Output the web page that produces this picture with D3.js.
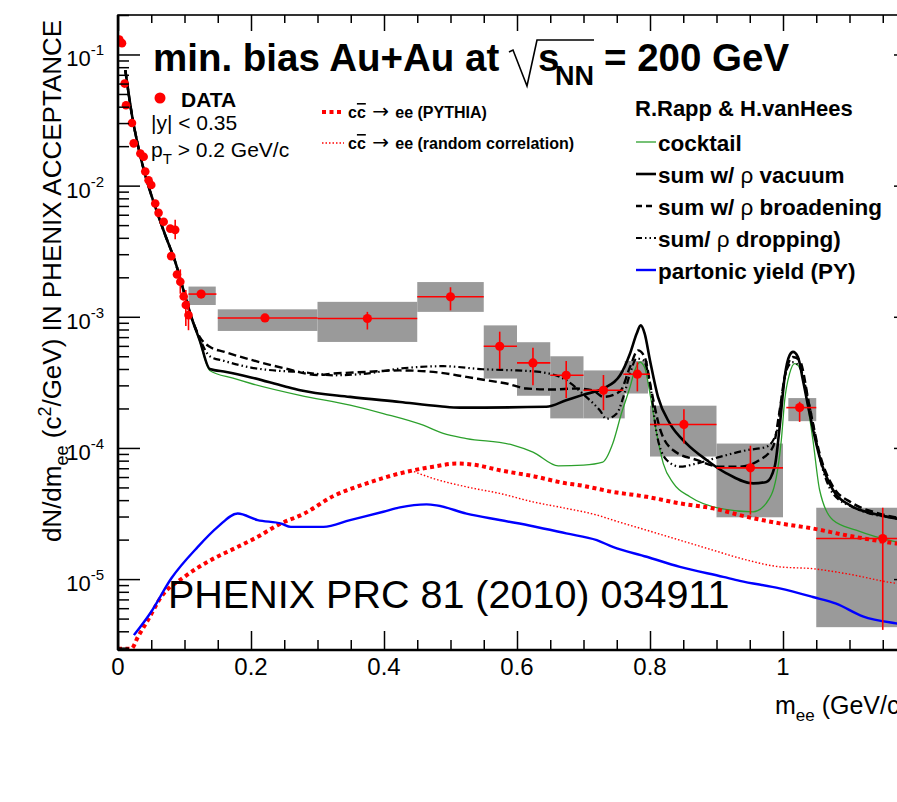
<!DOCTYPE html>
<html>
<head>
<meta charset="utf-8">
<script src="https://cdn.jsdelivr.net/npm/d3@7"></script>
<style>
  body { margin: 0; background: #fff; }
  svg { font-family: "Liberation Sans", Arial, Helvetica, sans-serif; }
</style>
</head>
<body>
<div id="chart"></div>
<script>

// low mass data points [m, dN/dm]
const lowMass = [
  [0.002, 0.13], [0.006, 0.122], [0.010, 0.060], [0.012, 0.041], [0.021, 0.030],
  [0.0236, 0.021], [0.0336, 0.0176], [0.0386, 0.0166], [0.041, 0.0128], [0.046, 0.0110],
  [0.050, 0.0101], [0.056, 0.0073], [0.061, 0.0062], [0.0687, 0.0053], [0.0786, 0.0047],
  [0.086, 0.0046], [0.080, 0.0029], [0.0887, 0.0021], [0.0937, 0.00185], [0.0988, 0.00143],
  [0.102, 0.00123], [0.106, 0.00103]
];
// visible stat. error bars on low mass points [m, lo, hi]
const lowMassErr = [
  [0.086, 0.0039, 0.0055], [0.0937, 0.0015, 0.0023], [0.102, 0.00085, 0.0016],
  [0.106, 0.00079, 0.00132]
];

// binned data points
const binX     = [0.125, 0.221, 0.375, 0.50, 0.574, 0.624, 0.674, 0.730, 0.781, 0.851, 0.951, 1.025, 1.150];
const binY     = [1.49e-3, 9.8e-4, 9.7e-4, 1.42e-3, 5.96e-4, 4.45e-4, 3.58e-4, 2.75e-4, 3.65e-4, 1.51e-4, 7.05e-5, 2.03e-4, 2.04e-5];
const binXLo   = [0.106, 0.15, 0.30, 0.45, 0.55, 0.60, 0.65, 0.70, 0.76, 0.80, 0.90, 1.005, 1.05];
const binXHi   = [0.148, 0.30, 0.45, 0.55, 0.60, 0.65, 0.70, 0.76, 0.80, 0.90, 1.00, 1.05, 1.25];
const binErrLo = [1.4e-3, 9.2e-4, 8.0e-4, 1.12e-3, 4.0e-4, 3.0e-4, 2.4e-4, 1.94e-4, 2.7e-4, 1.08e-4, 3.1e-5, 1.58e-4, 4.1e-6];
const binErrHi = [1.6e-3, 1.05e-3, 1.09e-3, 1.68e-3, 7.7e-4, 5.8e-4, 4.6e-4, 3.6e-4, 4.5e-4, 1.97e-4, 1.04e-4, 2.25e-4, 3.5e-5];
// systematic boxes
const sysXLo = [0.106, 0.15, 0.30, 0.45, 0.55, 0.60, 0.65, 0.70, 0.762, 0.80, 0.90, 1.008, 1.05];
const sysXHi = [0.147, 0.30, 0.45, 0.55, 0.60, 0.65, 0.70, 0.762, 0.797, 0.90, 1.00, 1.05, 1.25];
const sysYLo = [1.23e-3, 7.8e-4, 6.43e-4, 1.09e-3, 3.38e-4, 2.5e-4, 1.68e-4, 1.68e-4, 2.6e-4, 8.6e-5, 2.96e-5, 1.6e-4, 4.3e-6];
const sysYHi = [1.7e-3, 1.14e-3, 1.30e-3, 1.84e-3, 8.6e-4, 6.4e-4, 5.0e-4, 3.9e-4, 4.6e-4, 2.1e-4, 1.08e-4, 2.4e-4, 3.5e-5];

// model curves (R.Rapp & H.vanHees), shared steep low-mass part
const commonLow = [
  [0.011, 0.076], [0.021, 0.0345], [0.031, 0.0192], [0.041, 0.012], [0.056, 0.0069],
  [0.071, 0.0042], [0.086, 0.00263], [0.099, 0.00156], [0.111, 9.7e-4]
];
const cocktail = commonLow.concat([
  [0.123, 6.5e-4], [0.138, 3.9e-4], [0.173, 3.4e-4], [0.2, 3.1e-4], [0.2736, 2.52e-4],
  [0.349, 2.12e-4], [0.399, 1.83e-4], [0.459, 1.49e-4], [0.489, 1.29e-4], [0.524, 1.18e-4],
  [0.594, 1.05e-4], [0.624, 9.3e-5], [0.662, 7.3e-5], [0.70, 7.4e-5], [0.729, 7.8e-5],
  [0.744, 1.08e-4], [0.757, 1.83e-4], [0.770, 2.92e-4], [0.777, 3.9e-4], [0.785, 4.5e-4],
  [0.792, 4.1e-4], [0.80, 2.6e-4], [0.81, 1.29e-4], [0.82, 7.6e-5], [0.835, 5.4e-5],
  [0.86, 4.24e-5], [0.905, 3.46e-5], [0.955, 3.26e-5], [0.975, 3.8e-5], [0.99, 6.0e-5],
  [0.9975, 1.15e-4], [1.0025, 2.3e-4], [1.01, 3.7e-4], [1.0175, 4.4e-4], [1.025, 4.1e-4],
  [1.035, 2.45e-4], [1.045, 1.15e-4], [1.055, 4.8e-5], [1.075, 2.82e-5], [1.11, 2.36e-5],
  [1.17, 1.92e-5], [1.2, 1.8e-5]
]);
const sumVacuum = commonLow.concat([
  [0.123, 6.6e-4], [0.138, 4.0e-4], [0.163, 3.8e-4], [0.2, 3.45e-4], [0.25, 2.95e-4],
  [0.274, 2.75e-4], [0.349, 2.45e-4], [0.424, 2.24e-4], [0.484, 2.08e-4], [0.514, 2.03e-4],
  [0.644, 2.06e-4], [0.674, 2.31e-4], [0.70, 2.55e-4], [0.73, 2.84e-4], [0.755, 3.58e-4],
  [0.77, 5.25e-4], [0.78, 7.45e-4], [0.786, 8.6e-4], [0.792, 7.45e-4], [0.80, 4.65e-4],
  [0.812, 2.45e-4], [0.83, 1.53e-4], [0.855, 1.08e-4], [0.885, 8.1e-5], [0.915, 6.4e-5],
  [0.955, 5.37e-5], [0.975, 5.5e-5], [0.9875, 7.2e-5], [0.995, 1.45e-4], [1.0025, 3.47e-4],
  [1.01, 5.1e-4], [1.015, 5.4e-4], [1.0225, 4.94e-4], [1.03, 3.28e-4], [1.04, 1.83e-4],
  [1.055, 8.55e-5], [1.075, 4.8e-5], [1.105, 3.56e-5], [1.135, 3.16e-5], [1.17, 2.9e-5],
  [1.2, 2.75e-5]
]);
const sumBroad = commonLow.concat([
  [0.123, 7.0e-4], [0.138, 5.9e-4], [0.16, 5.4e-4], [0.2, 4.7e-4], [0.25, 4.05e-4],
  [0.3, 3.6e-4], [0.324, 3.69e-4], [0.374, 3.8e-4], [0.424, 3.9e-4], [0.474, 3.8e-4],
  [0.524, 3.48e-4], [0.554, 3.28e-4], [0.584, 3.1e-4], [0.614, 2.84e-4], [0.654, 2.79e-4],
  [0.689, 2.84e-4], [0.714, 2.75e-4], [0.73, 2.45e-4], [0.755, 2.7e-4], [0.77, 4.15e-4],
  [0.782, 5.55e-4], [0.792, 4.94e-4], [0.802, 2.75e-4], [0.815, 1.4e-4], [0.835, 9.6e-5],
  [0.87, 8.1e-5], [0.905, 7.2e-5], [0.935, 7.2e-5], [0.965, 8.1e-5], [0.985, 1.02e-4],
  [0.995, 1.94e-4], [1.0025, 3.47e-4], [1.015, 4.94e-4], [1.025, 4.67e-4], [1.04, 2.06e-4],
  [1.055, 9.1e-5], [1.075, 5.1e-5], [1.105, 3.78e-5], [1.145, 3.16e-5], [1.2, 2.8e-5]
]);
const sumDrop = commonLow.concat([
  [0.123, 6.8e-4], [0.138, 5.0e-4], [0.16, 4.6e-4], [0.2, 4.1e-4], [0.25, 3.85e-4],
  [0.274, 3.8e-4], [0.324, 3.58e-4], [0.374, 3.69e-4], [0.424, 4.03e-4], [0.489, 4.2e-4],
  [0.549, 3.98e-4], [0.599, 3.9e-4], [0.634, 3.8e-4], [0.674, 3.28e-4], [0.704, 2.45e-4],
  [0.7245, 1.94e-4], [0.7345, 1.67e-4], [0.75, 1.83e-4], [0.76, 2.45e-4], [0.77, 3.69e-4],
  [0.78, 4.8e-4], [0.79, 4.67e-4], [0.80, 3.1e-4], [0.81, 1.29e-4], [0.825, 8.1e-5],
  [0.845, 7.2e-5], [0.87, 7.6e-5], [0.905, 8.55e-5], [0.945, 9.6e-5], [0.975, 1.02e-4],
  [0.99, 1.29e-4], [0.9975, 2.31e-4], [1.005, 3.9e-4], [1.015, 4.5e-4], [1.025, 4.15e-4],
  [1.04, 2.06e-4], [1.055, 8.5e-5], [1.075, 4.5e-5], [1.11, 3.45e-5], [1.17, 2.9e-5],
  [1.2, 2.75e-5]
]);
const partonic = [
  [0.024, 3.74e-6], [0.05, 5.64e-6], [0.08, 1.01e-5], [0.12, 1.76e-5], [0.15, 2.5e-5],
  [0.18, 3.16e-5], [0.21, 2.82e-5], [0.2455, 2.65e-5], [0.26, 2.5e-5], [0.309, 2.5e-5],
  [0.349, 2.82e-5], [0.399, 3.26e-5], [0.424, 3.52e-5], [0.464, 3.71e-5], [0.479, 3.65e-5],
  [0.524, 3.16e-5], [0.574, 2.82e-5], [0.624, 2.53e-5], [0.674, 2.23e-5], [0.72, 1.98e-5],
  [0.744, 1.76e-5], [0.795, 1.48e-5], [0.845, 1.24e-5], [0.91, 1.04e-5], [0.935, 9.7e-6],
  [0.995, 8.5e-6], [1.045, 7.3e-6], [1.08, 6.5e-6], [1.12, 5.2e-6], [1.17, 4.6e-6],
  [1.2, 4.4e-6]
];
const charmPythia = [
  [0.0, 2.95e-6], [0.02, 2.95e-6], [0.03, 3.63e-6], [0.045, 4.88e-6], [0.065, 7.33e-6],
  [0.1, 1.04e-5], [0.14, 1.4e-5], [0.175, 1.71e-5], [0.21, 2.1e-5], [0.24, 2.58e-5],
  [0.28, 3.16e-5], [0.324, 4.3e-5], [0.374, 5.37e-5], [0.424, 6.4e-5], [0.474, 7.2e-5],
  [0.509, 7.6e-5], [0.539, 7.4e-5], [0.574, 6.76e-5], [0.624, 6.1e-5], [0.674, 5.37e-5],
  [0.694, 5.2e-5], [0.744, 4.62e-5], [0.795, 4.24e-5], [0.845, 3.78e-5], [0.895, 3.46e-5],
  [0.945, 2.99e-5], [0.995, 2.66e-5], [1.045, 2.43e-5], [1.095, 2.16e-5], [1.17, 1.87e-5],
  [1.2, 1.8e-5]
];
const charmRandom = [
  [0.445, 6.6e-5], [0.474, 5.85e-5], [0.524, 5.05e-5], [0.574, 4.5e-5], [0.624, 3.88e-5],
  [0.674, 3.46e-5], [0.72, 3.08e-5], [0.744, 2.82e-5], [0.795, 2.36e-5], [0.845, 1.98e-5],
  [0.895, 1.66e-5], [0.945, 1.4e-5], [0.995, 1.24e-5], [1.045, 1.2e-5], [1.095, 1.1e-5],
  [1.17, 9.3e-6], [1.2, 9e-6]
];

const yMajor = [1e-5, 1e-4, 1e-3, 1e-2, 1e-1];
const xMajor = [0, 0.2, 0.4, 0.6, 0.8, 1, 1.2];
const xLabels = ["0", "0.2", "0.4", "0.6", "0.8", "1"];

// ---- layout ----
const size = { width: 897, height: 802 };
const plot = { left: 118, right: 916, top: 15, bottom: 650 };

const svg = d3.select("#chart")
  .append("svg")
  .attr("width", size.width)
  .attr("height", size.height);

svg.append("rect").attr("width", size.width).attr("height", size.height).attr("fill", "#fff");

const x = d3.scaleLinear().domain([0, 1.2]).range([plot.left, plot.right]);
const y = d3.scaleLog().domain([2.88e-6, 0.2]).range([plot.bottom, plot.top]);

svg.append("clipPath").attr("id", "clip")
  .append("rect")
  .attr("x", plot.left).attr("y", plot.top - 2)
  .attr("width", plot.right - plot.left).attr("height", plot.bottom - plot.top + 2);

const area = svg.append("g").attr("clip-path", "url(#clip)");

// systematic boxes
area.append("g")
  .selectAll("rect")
  .data(binX.map((d, i) => i))
  .join("rect")
  .attr("x", (i) => x(sysXLo[i]))
  .attr("width", (i) => x(sysXHi[i]) - x(sysXLo[i]))
  .attr("y", (i) => y(sysYHi[i]))
  .attr("height", (i) => y(sysYLo[i]) - y(sysYHi[i]))
  .attr("fill", "#9a9a9a");

// curves
const line = d3.line()
  .x((d) => x(d[0]))
  .y((d) => y(d[1]))
  .curve(d3.curveMonotoneX);

const curves = [
  { data: cocktail, color: "#2ca02c", width: 1.3, dash: null },
  { data: charmRandom, color: "#ff0000", width: 1.4, dash: "1.5,2" },
  { data: charmPythia, color: "#ff0000", width: 4, dash: "4,3.5" },
  { data: partonic, color: "#0000ff", width: 2.4, dash: null },
  { data: sumDrop, color: "#000", width: 2.2, dash: "7,3,1.5,3,1.5,3" },
  { data: sumBroad, color: "#000", width: 2.4, dash: "8,4" },
  { data: sumVacuum, color: "#000", width: 2.6, dash: null },
];

area.append("g")
  .selectAll("path")
  .data(curves)
  .join("path")
  .attr("d", (d) => line(d.data))
  .attr("fill", "none")
  .attr("stroke", (d) => d.color)
  .attr("stroke-width", (d) => d.width)
  .attr("stroke-dasharray", (d) => d.dash);

// error bars
const err = area.append("g").attr("stroke", "#ff0000").attr("stroke-width", 1.6);
err.selectAll("line.h")
  .data(binX.map((d, i) => i))
  .join("line")
  .attr("class", "h")
  .attr("x1", (i) => x(binXLo[i])).attr("x2", (i) => x(binXHi[i]))
  .attr("y1", (i) => y(binY[i])).attr("y2", (i) => y(binY[i]));
err.selectAll("line.v")
  .data(binX.map((d, i) => i))
  .join("line")
  .attr("class", "v")
  .attr("x1", (i) => x(binX[i])).attr("x2", (i) => x(binX[i]))
  .attr("y1", (i) => y(binErrLo[i])).attr("y2", (i) => y(binErrHi[i]));
err.selectAll("line.lv")
  .data(lowMassErr)
  .join("line")
  .attr("class", "lv")
  .attr("x1", (d) => x(d[0])).attr("x2", (d) => x(d[0]))
  .attr("y1", (d) => y(d[1])).attr("y2", (d) => y(d[2]));

// markers
const markers = area.append("g").attr("fill", "#ff0000");
markers.selectAll("circle.low")
  .data(lowMass)
  .join("circle")
  .attr("class", "low")
  .attr("cx", (d) => x(d[0])).attr("cy", (d) => y(d[1])).attr("r", 4.3);
markers.selectAll("circle.bin")
  .data(binX.map((d, i) => i))
  .join("circle")
  .attr("class", "bin")
  .attr("cx", (i) => x(binX[i])).attr("cy", (i) => y(binY[i])).attr("r", 4.6);

// ---- axes ----
const yMinor = [];
for (let e = -6; e <= -1; e++) {
  for (let k = 2; k <= 9; k++) {
    const v = k * Math.pow(10, e);
    if (v >= 2.88e-6 && v <= 0.2) yMinor.push(v);
  }
}
const xMinor = d3.range(0, 25).map((i) => i * 0.05).filter((v) => Math.round(v * 100) % 20 !== 0);

function tickGroup(axis, tx, ty) {
  const g = svg.append("g").attr("transform", `translate(${tx},${ty})`).call(axis);
  g.select(".domain").remove();
  g.selectAll("line").attr("stroke", "#000").attr("stroke-width", 1.5);
  return g;
}
tickGroup(d3.axisLeft(y).tickValues(yMajor).tickSize(-22).tickFormat(""), plot.left, 0);
tickGroup(d3.axisLeft(y).tickValues(yMinor).tickSize(-11).tickFormat(""), plot.left, 0);
tickGroup(d3.axisRight(y).tickValues(yMajor).tickSize(-22).tickFormat(""), plot.right, 0);
tickGroup(d3.axisRight(y).tickValues(yMinor).tickSize(-11).tickFormat(""), plot.right, 0);
tickGroup(d3.axisBottom(x).tickValues(xMajor).tickSize(-19).tickFormat(""), 0, plot.bottom);
tickGroup(d3.axisBottom(x).tickValues(xMinor).tickSize(-10).tickFormat(""), 0, plot.bottom);
tickGroup(d3.axisTop(x).tickValues(xMajor).tickSize(-16).tickFormat(""), 0, plot.top);
tickGroup(d3.axisTop(x).tickValues(xMinor).tickSize(-8).tickFormat(""), 0, plot.top);

// frame
svg.append("rect")
  .attr("x", plot.left).attr("y", plot.top)
  .attr("width", plot.right - plot.left).attr("height", plot.bottom - plot.top)
  .attr("fill", "none").attr("stroke", "#000").attr("stroke-width", 1.6);
svg.append("line").attr("x1", plot.left).attr("x2", plot.left)
  .attr("y1", plot.top).attr("y2", plot.bottom).attr("stroke", "#000").attr("stroke-width", 2.6);
svg.append("line").attr("x1", plot.left).attr("x2", plot.right)
  .attr("y1", plot.bottom).attr("y2", plot.bottom).attr("stroke", "#000").attr("stroke-width", 2.6);

// y tick labels: 10^-k
const yl = svg.append("g").attr("font-size", 22).attr("fill", "#000");
yMajor.forEach((v) => {
  const t = yl.append("text")
    .attr("x", 104)
    .attr("y", y(v) + 12)
    .attr("text-anchor", "end");
  t.append("tspan").text("10");
  t.append("tspan").attr("font-size", 15).attr("dy", -11).text(String(Math.round(Math.log10(v))));
});

// x tick labels (1.2 lies outside the picture)
svg.append("g")
  .selectAll("text")
  .data(xLabels)
  .join("text")
  .attr("x", (d, i) => x(xMajor[i]))
  .attr("y", 675)
  .attr("text-anchor", "middle")
  .attr("font-size", 24)
  .text((d) => d);

// x title (runs off the right edge, as in the source figure)
const xt = svg.append("text").attr("x", 775).attr("y", 714).attr("font-size", 25);
xt.append("tspan").text("m");
xt.append("tspan").attr("font-size", 17).attr("dy", 7).text("ee");
xt.append("tspan").attr("dy", -7).text(" (GeV/c");
xt.append("tspan").attr("font-size", 17).attr("dy", -10).text("2");
xt.append("tspan").attr("dy", 10).text(")");

// y title
const ytl = svg.append("text")
  .attr("transform", "translate(61,281) rotate(-90)")
  .attr("text-anchor", "middle")
  .attr("font-size", 26);
ytl.append("tspan").text("dN/dm");
ytl.append("tspan").attr("font-size", 18).attr("dy", 7).text("ee");
ytl.append("tspan").attr("dy", -7).text(" (c");
ytl.append("tspan").attr("font-size", 18).attr("dy", -10).text("2");
ytl.append("tspan").attr("dy", 10).text("/GeV) IN PHENIX ACCEPTANCE");

// ---- title ----
const title = svg.append("g").attr("font-weight", "bold").attr("fill", "#000");
title.append("text").attr("x", 153).attr("y", 71).attr("font-size", 38.5).text("min. bias Au+Au at");
title.append("path")
  .attr("d", "M509,52 L513,50 L527,86 L537,40 L594,40")
  .attr("fill", "none").attr("stroke", "#000").attr("stroke-width", 1.6);
title.append("text").attr("x", 538).attr("y", 71).attr("font-size", 38.5).text("s");
title.append("text").attr("x", 555).attr("y", 85).attr("font-size", 27).text("NN");
title.append("text").attr("x", 604).attr("y", 71).attr("font-size", 38.5).text("= 200 GeV");

// ---- left legend ----
svg.append("circle").attr("cx", 160).attr("cy", 98).attr("r", 5.5).attr("fill", "#ff0000");
svg.append("text").attr("x", 181).attr("y", 107).attr("font-size", 21).attr("font-weight", "bold").text("DATA");
svg.append("text").attr("x", 151).attr("y", 130).attr("font-size", 21).text("|y| < 0.35");
const pt = svg.append("text").attr("x", 151).attr("y", 157).attr("font-size", 21);
pt.append("tspan").text("p");
pt.append("tspan").attr("font-size", 15).attr("dy", 7).text("T");
pt.append("tspan").attr("dy", -7).text(" > 0.2 GeV/c");

// ---- middle legend (charm) ----
const charmLegend = [
  { y: 118, label: "(PYTHIA)", dash: "4,3.5", width: 4 },
  { y: 149, label: "(random correlation)", dash: "1.5,2", width: 1.4 },
];
charmLegend.forEach((d) => {
  svg.append("line")
    .attr("x1", 322).attr("x2", 344).attr("y1", d.y - 6).attr("y2", d.y - 6)
    .attr("stroke", "#ff0000").attr("stroke-width", d.width).attr("stroke-dasharray", d.dash);
  const t = svg.append("text").attr("x", 348).attr("y", d.y)
    .attr("font-size", 16).attr("font-weight", "bold");
  t.append("tspan").text("c");
  t.append("tspan").style("text-decoration", "overline").text("c");
  t.append("tspan").attr("font-weight", "normal").attr("font-size", 20)
    .attr("font-family", "'DejaVu Sans', sans-serif").text(" \u2192 ");
  t.append("tspan").text("ee " + d.label);
});

// ---- right legend (models) ----
svg.append("text").attr("x", 635).attr("y", 116).attr("font-size", 22)
  .attr("font-weight", "bold").text("R.Rapp & H.vanHees");
const modelLegend = [
  { y: 151, pre: "cocktail", rho: null, color: "#2ca02c", width: 1.3, dash: null },
  { y: 183, pre: "sum w/ ", rho: " vacuum", color: "#000", width: 2.6, dash: null },
  { y: 215, pre: "sum w/ ", rho: " broadening", color: "#000", width: 2.4, dash: "6,4" },
  { y: 247, pre: "sum/ ", rho: " dropping)", color: "#000", width: 2.2, dash: "6,3,1.5,3,1.5,3" },
  { y: 279, pre: "partonic yield (PY)", rho: null, color: "#0000ff", width: 2.4, dash: null },
];
modelLegend.forEach((d) => {
  svg.append("line")
    .attr("x1", 636).attr("x2", 656).attr("y1", d.y - 9).attr("y2", d.y - 9)
    .attr("stroke", d.color).attr("stroke-width", d.width).attr("stroke-dasharray", d.dash);
  const t = svg.append("text").attr("x", 658).attr("y", d.y)
    .attr("font-size", 22.5).attr("font-weight", "bold");
  t.append("tspan").text(d.pre);
  if (d.rho) {
    t.append("tspan").attr("font-weight", "normal").text("\u03c1");
    t.append("tspan").text(d.rho);
  }
});

// ---- reference ----
svg.append("text").attr("x", 168).attr("y", 608).attr("font-size", 39.5)
  .text("PHENIX PRC 81 (2010) 034911");
</script>
</body>
</html>
